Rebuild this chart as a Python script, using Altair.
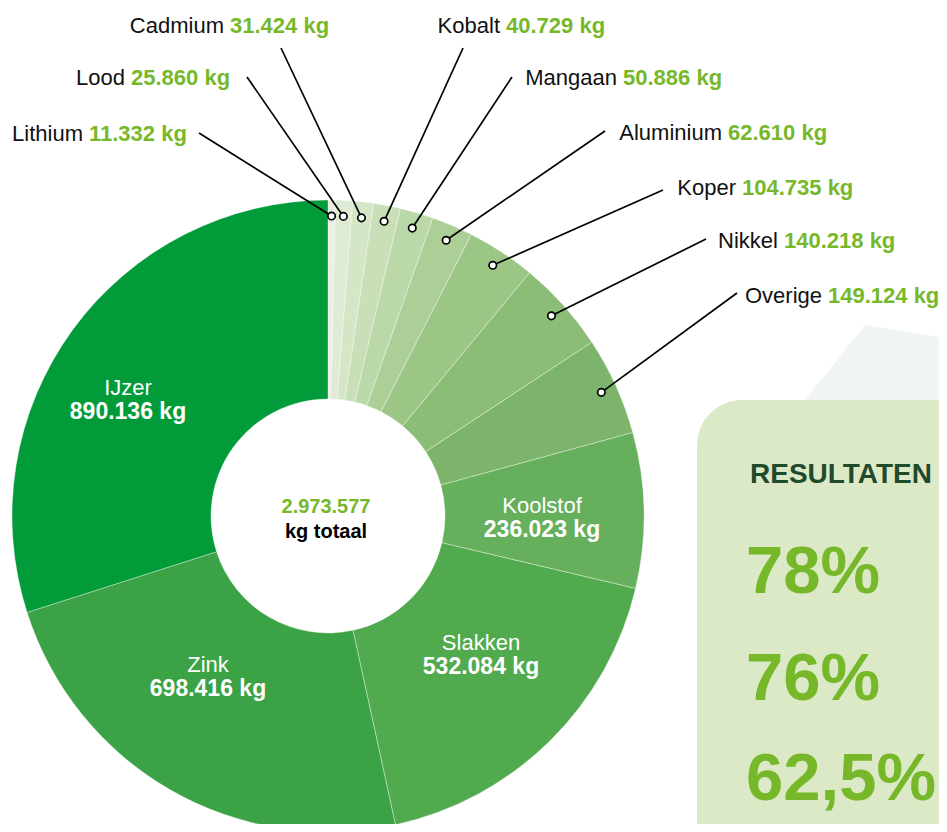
import altair as alt
import pandas as pd
import numpy as np

# ---------------- data ----------------
names = ["Lithium", "Lood", "Cadmium", "Kobalt", "Mangaan", "Aluminium", "Koper",
         "Nikkel", "Overige", "Koolstof", "Slakken", "Zink", "IJzer"]
values = [11332, 25860, 31424, 40729, 50886, 62610, 104735,
          140218, 149124, 236023, 532084, 698416, 890136]
value_labels = ["11.332 kg", "25.860 kg", "31.424 kg", "40.729 kg", "50.886 kg",
                "62.610 kg", "104.735 kg", "140.218 kg", "149.124 kg",
                "236.023 kg", "532.084 kg", "698.416 kg", "890.136 kg"]
colors = ["#EAF1E2", "#DFEBD4", "#D4E6C6", "#C8DFB7", "#BBD8A8", "#ACCF97",
          "#9CC686", "#8BBD77", "#7BB46A", "#66B05D", "#52AA4F", "#3BA345", "#029B3A"]
total_label = "2.973.577"
total_caption = "kg totaal"
panel_title = "RESULTATEN"
panel_values = ["78%", "76%", "62,5%"]

# ---------------- layout (page pixels) ----------------
OFF = 8
W, H = 931, 816
CX, CY = 328, 516
R_OUT, R_IN, R_MARK = 316, 117, 300
FONT = "Liberation Sans"
GREEN_TXT = "#76B82A"

# outside callouts (first 9 slices): split x between name and value, baseline y
out_split = [(83, 141), (125, 85), (224, 33), (500, 33), (617, 85),
             (722, 140), (736, 195), (778, 248), (822, 303)]
leader_end = [(199, 133), (247, 77), (281, 48), (463, 48), (512, 77),
              (605, 131), (663, 190), (706, 239), (737, 293)]
# inner labels (last 4 slices): centre x, name baseline y
in_pos = [(542, 513), (481, 650), (208, 672), (128, 395)]

df = pd.DataFrame({"name": names, "value": values, "idx": range(len(names))})

base_x = lambda f: alt.X(f, type="quantitative", scale=None, axis=None)
base_y = lambda f: alt.Y(f, type="quantitative", scale=None, axis=None)

# ---------------- background decoration ----------------
deco_circle = alt.Chart(pd.DataFrame({"v": [1]})).mark_arc(
    radius=628, color="#F5F7F2"
).encode(theta=alt.Theta("v:Q"), x=alt.value(1384 - OFF), y=alt.value(330 - OFF))

trap = pd.DataFrame({"x": [805 - OFF, 865 - OFF, 955 - OFF],
                     "y": [400 - OFF, 325 - OFF, 340 - OFF],
                     "y2": [400 - OFF] * 3})
deco_trap = alt.Chart(trap).mark_area(color="#F0F5F3").encode(
    x=base_x("x"), y=base_y("y"), y2="y2")

panel = alt.Chart(pd.DataFrame({"x": [697 - OFF], "x2": [990 - OFF],
                                "y": [400 - OFF], "y2": [880 - OFF]})).mark_rect(
    cornerRadius=45, color="#DCE9C6"
).encode(x=base_x("x"), x2="x2", y=base_y("y"), y2="y2")

# ---------------- donut ----------------
donut = alt.Chart(df).mark_arc(
    radius=R_OUT, radius2=R_IN, stroke="white", strokeWidth=0.8, strokeOpacity=0.45
).encode(
    theta=alt.Theta("value:Q", stack=True),
    order=alt.Order("idx:Q", sort="ascending"),
    color=alt.Color("name:N", scale=alt.Scale(domain=names, range=colors), legend=None),
    x=alt.value(CX - OFF), y=alt.value(CY - OFF),
)

# ---------------- callouts ----------------
vals = np.array(values, dtype=float)
mid = (np.cumsum(vals) - vals / 2) / vals.sum() * 2 * np.pi
n_out = len(out_split)
call = pd.DataFrame({
    "name": names[:n_out],
    "val": value_labels[:n_out],
    "mx": CX - OFF + R_MARK * np.sin(mid[:n_out]),
    "my": CY - OFF - R_MARK * np.cos(mid[:n_out]),
    "ex": [p[0] - OFF for p in leader_end],
    "ey": [p[1] - OFF for p in leader_end],
    "sx": [p[0] - OFF for p in out_split],
    "sy": [p[1] - OFF for p in out_split],
})
call["vx"] = call["sx"] + 6

leaders = alt.Chart(call).mark_rule(color="black", strokeWidth=1.7).encode(
    x=base_x("mx"), y=base_y("my"), x2="ex", y2="ey")
markers = alt.Chart(call).mark_point(
    shape="circle", filled=True, fill="white", stroke="black", strokeWidth=1.7,
    size=55, opacity=1
).encode(x=base_x("mx"), y=base_y("my"))

out_names = alt.Chart(call).mark_text(
    align="right", baseline="alphabetic", font=FONT, fontSize=22, color="#111111"
).encode(x=base_x("sx"), y=base_y("sy"), text="name:N")
out_vals = alt.Chart(call).mark_text(
    align="left", baseline="alphabetic", font=FONT, fontSize=22, fontWeight="bold",
    color=GREEN_TXT
).encode(x=base_x("vx"), y=base_y("sy"), text="val:N")

inner = pd.DataFrame({
    "name": names[n_out:],
    "val": value_labels[n_out:],
    "x": [p[0] - OFF for p in in_pos],
    "y": [p[1] - OFF for p in in_pos],
})
inner["y2"] = inner["y"] + 24
in_names = alt.Chart(inner).mark_text(
    align="center", baseline="alphabetic", font=FONT, fontSize=22, color="white"
).encode(x=base_x("x"), y=base_y("y"), text="name:N")
in_vals = alt.Chart(inner).mark_text(
    align="center", baseline="alphabetic", font=FONT, fontSize=23, fontWeight="bold",
    color="white"
).encode(x=base_x("x"), y=base_y("y2"), text="val:N")

centre = pd.DataFrame({"t": [total_label, total_caption],
                       "x": [326 - OFF, 326 - OFF], "y": [513 - OFF, 538 - OFF],
                       "c": [GREEN_TXT, "#000000"]})
centre_txt = alt.Chart(centre).mark_text(
    align="center", baseline="alphabetic", font=FONT, fontSize=20, fontWeight="bold"
).encode(x=base_x("x"), y=base_y("y"), text="t:N", color=alt.Color("c:N", scale=None))

# ---------------- right panel texts ----------------
ptitle = alt.Chart(pd.DataFrame({"t": [panel_title], "x": [750 - OFF], "y": [483 - OFF]})).mark_text(
    align="left", baseline="alphabetic", font=FONT, fontSize=28, fontWeight="bold",
    color="#1F4B2C"
).encode(x=base_x("x"), y=base_y("y"), text="t:N")
pvals = alt.Chart(pd.DataFrame({"t": panel_values, "x": [746 - OFF] * 3,
                                "y": [593 - OFF, 700 - OFF, 800 - OFF]})).mark_text(
    align="left", baseline="alphabetic", font=FONT, fontSize=67, fontWeight="bold",
    color=GREEN_TXT
).encode(x=base_x("x"), y=base_y("y"), text="t:N")

chart = alt.layer(
    deco_circle, deco_trap, panel, donut, leaders, markers,
    out_names, out_vals, in_names, in_vals, centre_txt, ptitle, pvals
).properties(
    width=W, height=H, autosize=alt.AutoSizeParams(type="none"), padding=0,
    background="white"
).configure_view(stroke=None)

chart.save("out.html", embed_options={"renderer": "svg", "actions": False})
